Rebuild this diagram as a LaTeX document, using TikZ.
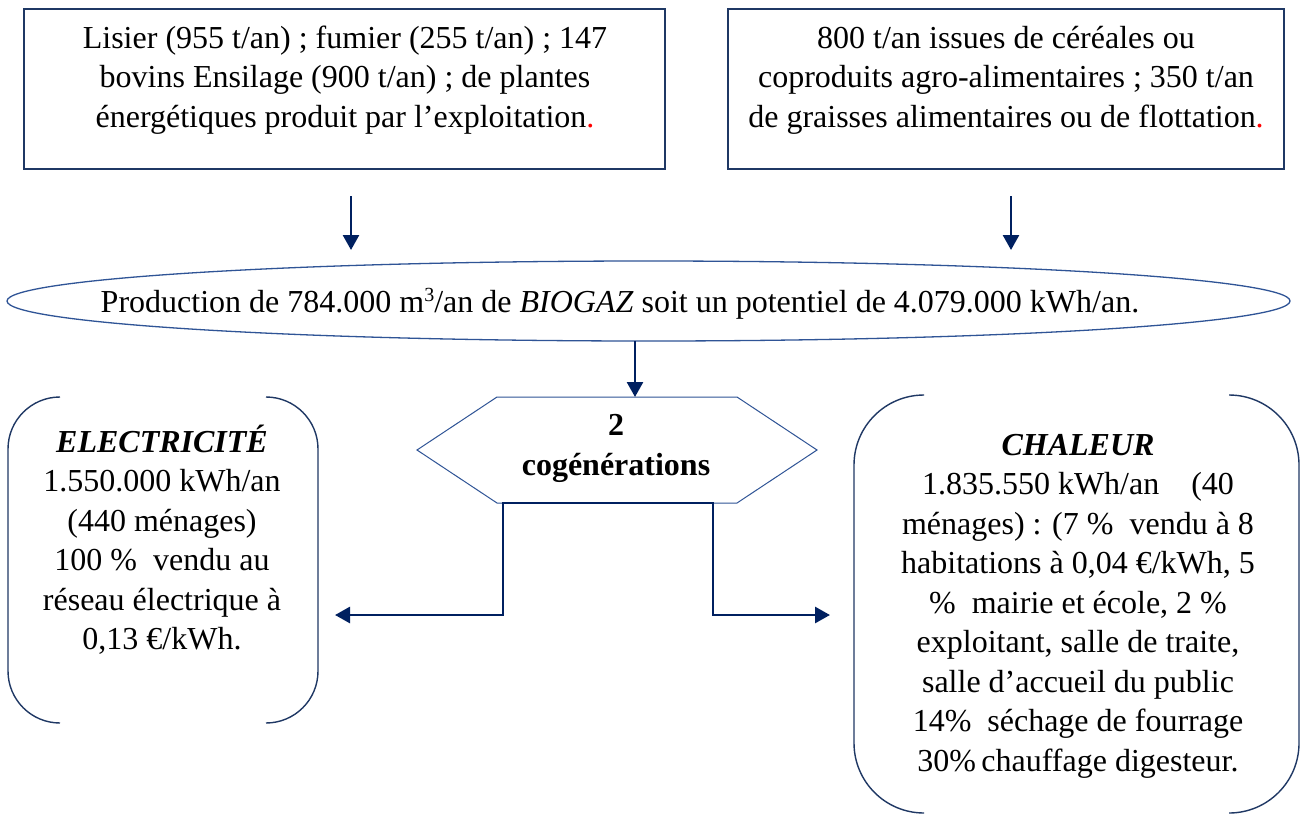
\documentclass[tikz,border=0pt]{standalone}
\usepackage{fontspec}
\setmainfont{Liberation Serif}
\usetikzlibrary{arrows.meta,shapes.geometric,calc}
\definecolor{navy}{RGB}{0,32,96}
\definecolor{boxline}{RGB}{31,56,100}
\definecolor{thinline}{RGB}{47,84,150}
\begin{document}
\begin{tikzpicture}[x=1pt,y=-1pt,
  txt/.style={font=\fontsize{32pt}{39.5pt}\selectfont, align=center, anchor=base, inner sep=0pt, outer sep=0pt},
  btxt/.style={txt, font=\fontsize{32pt}{39.5pt}\selectfont\bfseries},
  srcbox/.style={draw=boxline, line width=2pt, inner sep=0pt, outer sep=0pt, anchor=north west},
  hold/.style={inner sep=0pt, outer sep=0pt, anchor=north west},
  bracket/.style={draw=boxline, line width=1.4pt},
  arr/.style={draw=navy, line width=2.6pt, -{Triangle[length=15pt,width=16pt]}},
  conn/.style={draw=navy, line width=2.8pt, {Triangle[length=15pt,width=16pt]}-{Triangle[length=15pt,width=16pt]}}
]
\fill[white] (0,0) rectangle (1300,814);
\useasboundingbox (0,0) rectangle (1300,814);

% top source boxes
\node[srcbox, minimum width=641pt, minimum height=160pt] (srcA) at (24,9) {};
\node[srcbox, minimum width=556pt, minimum height=160pt] (srcB) at (728,9) {};
\node[txt] (srcAtext) at (345,127) {Lisier (955 t/an) ; fumier (255 t/an) ; 147\\bovins Ensilage (900 t/an) ; de plantes\\énergétiques produit par l’exploitation{\color{red}.}};
\node[txt] (srcBtext) at (1006,127) {800 t/an issues de céréales ou\\coproduits agro-alimentaires ; 350 t/an\\de graisses alimentaires ou de flottation{\color{red}.}};

% biogas ellipse
\node[draw=thinline, line width=1.3pt, ellipse, minimum width=1283pt, minimum height=80pt, inner sep=0pt, outer sep=0pt] (biogas) at (648.5,301) {};
\node[txt] (biogastext) at (620,312) {Production de 784.000 m\raisebox{11pt}{\fontsize{20pt}{20pt}\selectfont 3}/an de \textit{BIOGAZ} soit un potentiel de 4.079.000 kWh/an.};

% cogeneration hexagon
\node[inner sep=0pt, outer sep=0pt, minimum width=400pt, minimum height=106pt] (cogen) at (617,450) {};
\draw[draw=thinline, line width=1pt] (cogen.west) -- ([xshift=80pt]cogen.north west) -- ([xshift=-80pt]cogen.north east) -- (cogen.east) -- ([xshift=-80pt]cogen.south east) -- ([xshift=80pt]cogen.south west) -- cycle;
\node[btxt] (cogentext) at (616,475) {2\\cogénérations};

% output bracket boxes
\node[hold, minimum width=310pt, minimum height=326pt] (elec) at (8,397) {};
\draw[bracket, rounded corners=52pt] ([xshift=52pt]elec.north west) -- (elec.north west) -- (elec.south west) -- ([xshift=52pt]elec.south west);
\draw[bracket, rounded corners=52pt] ([xshift=-52pt]elec.north east) -- (elec.north east) -- (elec.south east) -- ([xshift=-52pt]elec.south east);
\node[txt] (electext) at (162,649.5) {\textbf{\textit{ELECTRICITÉ}}\\1.550.000 kWh/an\\(440 ménages)\\100 \%~ vendu au\\réseau électrique à\\0,13 €/kWh.};

\node[hold, minimum width=445pt, minimum height=418pt] (heat) at (854,395) {};
\draw[bracket, rounded corners=70pt] ([xshift=70pt]heat.north west) -- (heat.north west) -- (heat.south west) -- ([xshift=70pt]heat.south west);
\draw[bracket, rounded corners=70pt] ([xshift=-70pt]heat.north east) -- (heat.north east) -- (heat.south east) -- ([xshift=-70pt]heat.south east);
\node[txt] (heattext) at (1078,771) {\textbf{\textit{CHALEUR}}\\1.835.550 kWh/an\quad (40\\ménages) : (7 \%~ vendu à 8\\habitations à 0,04 €/kWh, 5\\\%~ mairie et école, 2 \%\\exploitant, salle de traite,\\salle d’accueil du public\\14\%~ séchage de fourrage\\30\%\,chauffage digesteur.};

% connectors
\coordinate (a1) at (351,0);
\coordinate (a2) at (1011,0);
\coordinate (a3) at (635,0);
\coordinate (cL) at (503,0);
\coordinate (cR) at (713,0);
\coordinate (cy) at (0,615);
\draw[arr, shorten <=27pt, shorten >=11pt] (a1 |- srcA.south) -- (a1 |- biogas.north);
\draw[arr, shorten <=27pt, shorten >=11pt] (a2 |- srcB.south) -- (a2 |- biogas.north);
\draw[arr] (a3 |- biogas.south) -- (a3 |- cogen.north);
\draw[conn, shorten <=17pt, shorten >=24pt] (elec.east |- cy) -- (cL |- cy) -- (cL |- cogen.south) -- (cR |- cogen.south) -- (cR |- cy) -- (heat.west |- cy);
\end{tikzpicture}
\end{document}
